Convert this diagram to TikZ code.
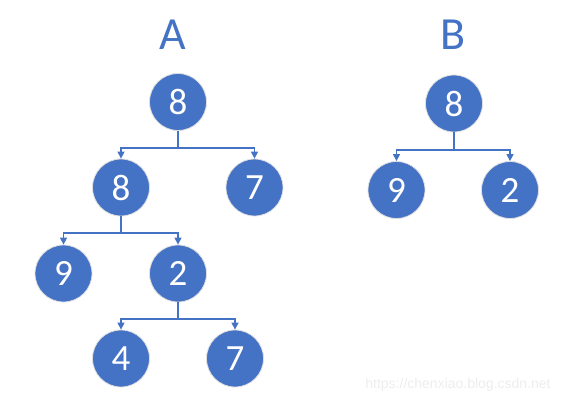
\documentclass[tikz,border=0pt]{standalone}
\usepackage{fontspec}
\setmainfont{Carlito}
\newfontfamily\wmfont{Liberation Sans}
\usetikzlibrary{arrows.meta}
\definecolor{nodeblue}{HTML}{4472C4}
\begin{document}
\begin{tikzpicture}[x=1pt,y=-1pt,
  tnode/.style={circle,fill=nodeblue,draw=white!75!gray,line width=0.8pt,minimum size=57pt,inner sep=0pt,text=white,font=\fontsize{37}{37}\selectfont},
  conn/.style={draw=nodeblue,line width=1.4pt,-{Triangle[width=7pt,length=7pt]}},
  title/.style={text=nodeblue,font=\fontsize{46}{46}\selectfont}]
\useasboundingbox (0,0) rectangle (574,404);
\node[title] (ta) at (173,35) {A};
\node[title] (tb) at (453,35) {B};
% tree A
\node[tnode] (a1) at (178,102) {8};
\node[tnode] (a2) at (121,187.5) {8};
\node[tnode] (a3) at (254.5,187.5) {7};
\node[tnode] (a4) at (63.5,273.5) {9};
\node[tnode] (a5) at (178,273.5) {2};
\node[tnode] (a6) at (121,358.5) {4};
\node[tnode] (a7) at (235,358.5) {7};
% tree B
\node[tnode] (b1) at (454,103.5) {8};
\node[tnode] (b2) at (396.5,190) {9};
\node[tnode] (b3) at (510,190) {2};
% connectors
\draw[conn] (a1.south) -- (a1.south |- 0,148) -| (a2.north);
\draw[conn] (a1.south) -- (a1.south |- 0,148) -| (a3.north);
\draw[conn] (a2.south) -- (a2.south |- 0,233) -| (a4.north);
\draw[conn] (a2.south) -- (a2.south |- 0,233) -| (a5.north);
\draw[conn] (a5.south) -- (a5.south |- 0,319) -| (a6.north);
\draw[conn] (a5.south) -- (a5.south |- 0,319) -| (a7.north);
\draw[conn] (b1.south) -- (b1.south |- 0,150) -| (b2.north);
\draw[conn] (b1.south) -- (b1.south |- 0,150) -| (b3.north);
% watermark
\node[text=black!7,font=\wmfont\fontsize{14}{14}\selectfont,inner sep=0pt] (wm) at (458,385) {https://chenxiao.blog.csdn.net};
\end{tikzpicture}
\end{document}
